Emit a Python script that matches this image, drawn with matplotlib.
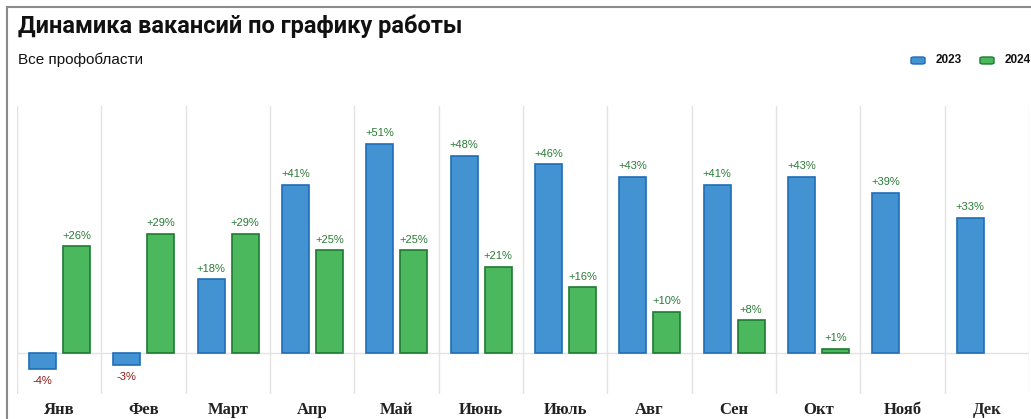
import matplotlib.pyplot as plt
from matplotlib.lines import Line2D
from matplotlib.patches import FancyBboxPatch
import numpy as np

# Данные
months = ['Янв', 'Фев', 'Март', 'Апр', 'Май', 'Июнь', 'Июль', 'Авг', 'Сен', 'Окт', 'Нояб', 'Дек']
v2023 = [-4, -3, 18, 41, 51, 48, 46, 43, 41, 43, 39, 33]
v2024 = [26, 29, 29, 25, 25, 21, 16, 10, 8, 1]

blue_face = '#4393d3'
blue_edge = '#1f6db7'
green_face = '#4cb85d'
green_edge = '#1c7a31'
pos_color = '#2a7a36'
neg_color = '#8b1a1a'

fig = plt.figure(figsize=(10.31, 4.19), dpi=100)
ax = fig.add_axes([17 / 1031, (419 - 394) / 419, 1012 / 1031, (394 - 106) / 419])

x = np.arange(len(months))
w = 0.32
b1 = ax.bar(x - 0.198, v2023, w, color=blue_face, edgecolor=blue_edge, linewidth=1.2, zorder=3)
x2 = np.arange(len(v2024))
b2 = ax.bar(x2 + 0.206, v2024, w, color=green_face, edgecolor=green_edge, linewidth=1.2, zorder=3)

# Подписи значений
for bars, vals in ((b1, v2023), (b2, v2024)):
    for bar, v in zip(bars, vals):
        cx = bar.get_x() + bar.get_width() / 2
        if v >= 0:
            ax.annotate(f'+{v}%', (cx, v), xytext=(0, 4), textcoords='offset points',
                        ha='center', va='bottom', fontsize=8, color=pos_color, family='Liberation Sans')
        else:
            ax.annotate(f'{v}%', (cx, v), xytext=(0, -5), textcoords='offset points',
                        ha='center', va='top', fontsize=8, color=neg_color, family='Liberation Sans')

ax.set_xlim(-0.5, len(months) - 0.5)
ax.set_ylim(-10, 60.2)
ax.axhline(0, color='#e3e3e3', linewidth=1, zorder=1)
for i in range(len(months) + 1):
    ax.axvline(i - 0.5, color='#e3e3e3', linewidth=1, zorder=1)

ax.set_xticks(x)
ax.set_xticklabels(months, family='Liberation Serif', fontweight='bold', fontsize=12, color='#222222')
ax.tick_params(axis='x', length=0, pad=6)
ax.set_yticks([])
for s in ax.spines.values():
    s.set_visible(False)

# Заголовки
fig.text(18 / 1031, 1 - 26 / 419, 'Динамика вакансий по графику работы', fontsize=17,
         fontweight='bold', family='Roboto', va='center', ha='left', color='#111111')
fig.text(18 / 1031, 1 - 60 / 419, 'Все профобласти', fontsize=11,
         family='Liberation Sans', va='center', ha='left', color='#111111')

# Легенда
for px, face, edge, lab in ((911, blue_face, blue_edge, '2023'), (980, green_face, green_edge, '2024')):
    fig.patches.append(FancyBboxPatch((px / 1031, 1 - 64 / 419), 14 / 1031, 7 / 419,
                                      boxstyle='round,pad=0,rounding_size=0.003',
                                      transform=fig.transFigure, facecolor=face, edgecolor=edge,
                                      linewidth=1))
    fig.text((px + 25) / 1031, 1 - 60 / 419, lab, fontsize=8.5, fontweight='bold',
             family='Liberation Sans', va='center', ha='left', color='#111111')

# Рамка
fig.add_artist(Line2D([7 / 1031, 1], [1 - 7 / 419, 1 - 7 / 419], color='#8a8a8a', linewidth=1.5))
fig.add_artist(Line2D([7 / 1031, 7 / 1031], [0, 1 - 7 / 419], color='#8a8a8a', linewidth=1.5))

plt.savefig('out.png', dpi=100)
